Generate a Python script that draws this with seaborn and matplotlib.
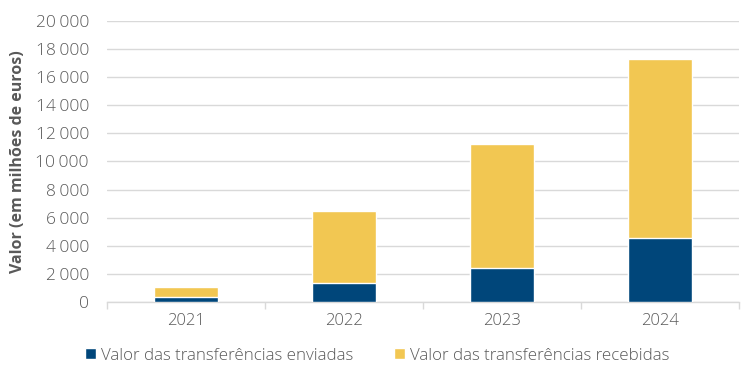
import numpy as np
import pandas as pd
import matplotlib.pyplot as plt
import seaborn as sns
from matplotlib.patches import Patch
from matplotlib.ticker import FuncFormatter

# Values (millions of euros)
years = ["2021", "2022", "2023", "2024"]
enviadas = [360, 1350, 2420, 4560]
recebidas = [710, 5130, 8830, 12740]

df = pd.DataFrame({"Ano": years, "Enviadas": enviadas, "Recebidas": recebidas})
df["Total"] = df["Enviadas"] + df["Recebidas"]

blue = "#00467A"
yellow = "#F2C752"
grey_text = "#595959"

sns.set_theme(style="white")
plt.rcParams["font.family"] = ["Open Sans", "DejaVu Sans"]

fig, ax = plt.subplots(figsize=(7.48, 3.79), dpi=100)
fig.subplots_adjust(left=0.143, right=0.988, top=0.945, bottom=0.203)

# stacked bars: total first (yellow), then sent (blue) on top
sns.barplot(data=df, x="Ano", y="Total", color=yellow, width=0.4,
            saturation=1, ax=ax, zorder=3)
sns.barplot(data=df, x="Ano", y="Enviadas", color=blue, width=0.4,
            saturation=1, ax=ax, zorder=4)

ax.set_ylim(0, 20000)
ax.set_xlim(-0.5, 3.5)
ax.set_yticks(np.arange(0, 20001, 2000))
ax.yaxis.set_major_formatter(FuncFormatter(lambda v, p: f"{int(v):,}".replace(",", "\u2009")))
ax.grid(axis="y", color="#d9d9d9", linewidth=1, zorder=0)
ax.set_axisbelow(True)

for s in ["top", "right", "left"]:
    ax.spines[s].set_visible(False)
ax.spines["bottom"].set_color("#d9d9d9")
ax.spines["bottom"].set_linewidth(1)

# small tick marks between categories
ax.set_xticks(np.arange(-0.5, 4, 1), minor=True)
ax.tick_params(axis="x", which="minor", length=5, color="#d9d9d9", width=1, bottom=True)
ax.tick_params(axis="x", which="major", length=0, labelsize=12, labelcolor=grey_text, pad=8)
ax.tick_params(axis="y", length=0, labelsize=12.5, labelcolor=grey_text, pad=13)
for lab in ax.get_xticklabels() + ax.get_yticklabels():
    lab.set_fontweight("light")

ax.set_xlabel("")
ax.set_ylabel("Valor (em milhões de euros)", fontsize=11.5, fontweight="bold",
              color=grey_text, labelpad=7)

handles = [Patch(facecolor=blue, label="Valor das transferências enviadas"),
           Patch(facecolor=yellow, label="Valor das transferências recebidas")]
leg = fig.legend(handles=handles, loc="lower left", bbox_to_anchor=(0.093, 0.0), ncol=2,
                 frameon=False, prop={"size": 12.2, "weight": "light"}, labelcolor=grey_text,
                 handlelength=0.65, handleheight=0.65, handletextpad=0.3, columnspacing=2.4)

plt.savefig("out.png", dpi=100)
